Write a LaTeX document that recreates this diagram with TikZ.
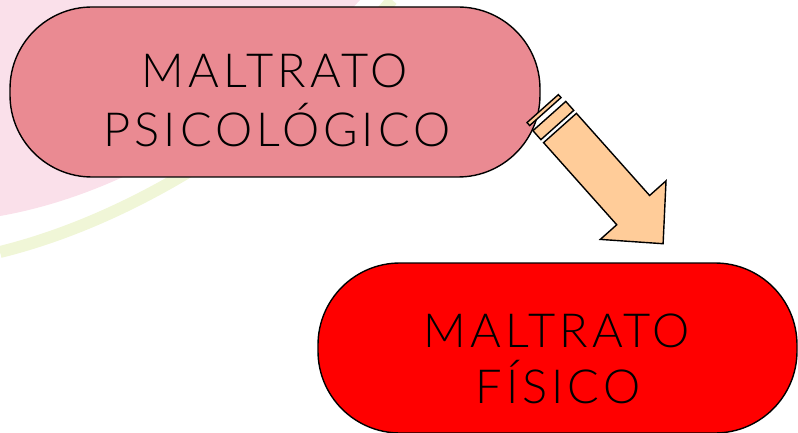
\documentclass[tikz,border=0pt]{standalone}
\usepackage{fontspec}
\setmainfont{Lato}[UprightFont={* Light},LetterSpace=8.5]
\usetikzlibrary{calc}
\definecolor{psifill}{RGB}{234,138,146}
\definecolor{fisfill}{RGB}{255,0,0}
\definecolor{arrfill}{RGB}{255,204,153}
\definecolor{bgpink}{RGB}{250,224,234}
\definecolor{bggreen}{RGB}{240,246,215}
\tikzset{
  boxshape/.style={draw=black, line width=1.4pt, rounded corners=82pt, inner sep=0pt},
  lbl/.style={anchor=base, inner sep=0pt, font=\fontsize{47}{56}\selectfont, text=black},
  arrowpart/.style={draw=black, fill=arrfill, line width=1.4pt, line join=miter},
}
\begin{document}
\begin{tikzpicture}[x=1pt,y=1pt]
\useasboundingbox (0,0) rectangle (798,-433);
% faint background decorations
\fill[bgpink] (0,0) -- (360,0) .. controls (250,-120) and (120,-195) .. (0,-216) -- cycle;
\draw[bggreen, line width=12pt] (0,-252) .. controls (150,-215) and (300,-110) .. (392,0);
% boxes
\node[boxshape, fill=psifill, minimum width=530pt, minimum height=170pt] (psi) at (275,-92) {};
\node[lbl] (psiA) at (275,-88) {MALTRATO};
\node[lbl] (psiB) at (277,-147) {PSICOLÓGICO};
\node[boxshape, fill=fisfill, minimum width=479pt, minimum height=170pt] (fis) at (557.5,-348) {};
\node[lbl] (fisA) at (557,-347) {MALTRATO};
\node[lbl] (fisB) at (558,-403) {FÍSICO};
% striped block arrow from psi towards fis
\coordinate (base) at (560,-128);
\begin{scope}[shift={(base)}, rotate=-48.3]
  \draw[arrowpart] (-26,-21) rectangle (-22,21);
  \draw[arrowpart] (-16,-22) rectangle (-4,22);
  \draw[arrowpart] (0,-22) -- (110,-22) -- (110,-44) -- (155,0) -- (110,44) -- (110,22) -- (0,22) -- cycle;
\end{scope}
\end{tikzpicture}
\end{document}
